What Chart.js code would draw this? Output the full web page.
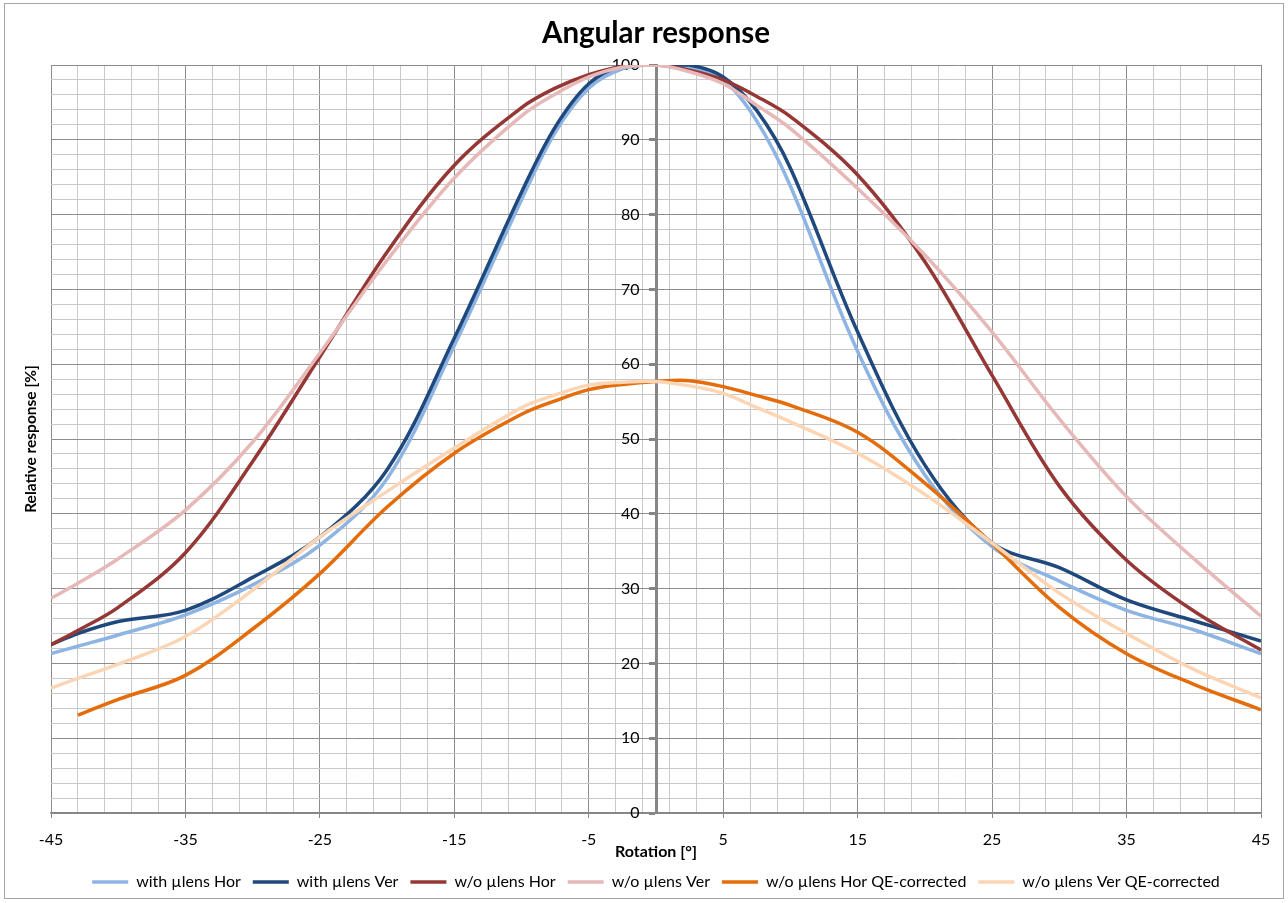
<!DOCTYPE html>
<html>
<head>
<meta charset="utf-8">
<script src="https://cdn.jsdelivr.net/npm/chart.js@4.4.0/dist/chart.umd.min.js"></script>
<style>
  body { margin: 0; background: #fff; }
  #wrap { position: absolute; left: 0; top: 0; width: 1288px; height: 903px; }
</style>
</head>
<body>
<div id="wrap"><canvas id="myChart" width="1288" height="903"></canvas></div>
<script>
// rotation angles in degrees
const angles = [-45, -43, -40, -35, -30, -25, -20, -15, -10, -7.5, -5, -2.5, 0, 2.5, 5, 7.5, 10, 15, 20, 25, 30, 35, 40, 45];

const withHor = [21.3, 22.3, 23.8, 26.5, 30.5, 35.8, 44.7, 62.5, 82.0, 91.0, 96.9, 99.5, 100, 99.7, 98.0, 92.5, 83.8, 61.7, 45.2, 35.6, 31.0, 27.1, 24.5, 21.3];
const withVer = [22.5, 24.0, 25.6, 27.1, 31.5, 36.9, 45.9, 63.5, 83.0, 91.7, 97.5, 99.9, 100, 100, 98.4, 93.9, 86.2, 64.3, 46.5, 36.1, 32.8, 28.5, 25.7, 23.0];
const woHor = [22.5, 24.4, 27.5, 34.8, 47.0, 61.0, 75.0, 86.6, 94.3, 96.9, 98.7, 99.8, 100, 99.3, 98.0, 95.8, 93.1, 85.3, 73.7, 58.5, 43.7, 33.8, 27.0, 21.8];
const woVer = [28.7, 30.7, 34.0, 40.5, 49.6, 61.5, 73.9, 84.9, 93.2, 96.1, 98.4, 99.7, 100, 99.1, 97.5, 94.6, 91.5, 83.5, 74.6, 64.3, 52.7, 42.3, 34.0, 26.3];
const woHorQE = [null, 13.1, 15.2, 18.4, 24.6, 32.0, 40.9, 48.1, 53.3, 55.1, 56.6, 57.3, 57.7, 57.8, 57.0, 55.8, 54.5, 50.9, 44.1, 36.0, 27.5, 21.3, 17.2, 13.8];
const woVerQE = [16.7, 18.0, 19.9, 23.6, 29.8, 36.9, 43.0, 48.8, 54.2, 55.9, 57.2, 57.6, 57.7, 57.1, 56.1, 54.2, 52.3, 48.1, 42.6, 36.1, 29.4, 24.0, 19.2, 15.4];

const seriesNames = ['with µlens Hor', 'with µlens Ver', 'w/o µlens Hor', 'w/o µlens Ver',
  'w/o µlens Hor QE-corrected', 'w/o µlens Ver QE-corrected'];
const seriesValues = [withHor, withVer, woHor, woVer, woHorQE, woVerQE];
const seriesColors = ['#8DB4E2', '#1F497D', '#953735', '#E6B9B8', '#E46C0A', '#FCD5B5'];

// x grid every 2 degrees starting at -45, labels every 10
const xTicks = [];
for (let v = -45; v <= 45; v += 2) xTicks.push(v);

Chart.defaults.font.family = 'Lato, "Open Sans", sans-serif';

const ctx = document.getElementById('myChart').getContext('2d');

const frame = {
  id: 'frame',
  beforeDraw(chart) {
    const c = chart.ctx;
    c.save();
    c.fillStyle = '#fff';
    c.fillRect(0, 0, chart.width, chart.height);
    c.strokeStyle = '#a6a6a6';
    c.lineWidth = 1;
    c.strokeRect(4.5, 3.5, 1279, 895);
    c.restore();
  }
};

const datasets = seriesValues.map((vals, i) => ({
  label: seriesNames[i],
  data: angles.map((a, j) => ({ x: a, y: vals[j] })).filter(p => p.y !== null),
  borderColor: seriesColors[i],
  backgroundColor: seriesColors[i],
  borderWidth: 3.5,
  pointRadius: 0,
  tension: 0.35,
  yAxisID: 'y',
  order: 5 - i // later series on top, like the original
}));

const isMajorY = c => c.tick && c.tick.value % 10 === 0;
const isMajorX = c => c.tick && (c.tick.value + 45) % 10 === 0;

const myChart = new Chart(ctx, {
  type: 'line',
  data: { datasets: datasets },
  plugins: [frame],
  options: {
    responsive: false,
    animation: false,
    devicePixelRatio: 1,
    events: [],
    layout: { padding: { top: 4, right: 27, bottom: 3, left: 0 } },
    plugins: {
      title: {
        display: true,
        fullSize: false,
        text: 'Angular response',
        color: '#000',
        font: { size: 29.5, weight: 'bold' },
        padding: { top: 11.3, bottom: 14.3 }
      },
      legend: {
        position: 'bottom',
        fullSize: false,
        labels: {
          color: '#000',
          font: { size: 16 },
          usePointStyle: true,
          pointStyle: 'line',
          pointStyleWidth: 36,
          boxHeight: 15,
          padding: 12,
          sort: (a, b) => a.datasetIndex - b.datasetIndex
        }
      },
      tooltip: { enabled: false }
    },
    scales: {
      x: {
        type: 'linear',
        min: -45,
        max: 45,
        afterBuildTicks: s => { s.ticks = xTicks.map(v => ({ value: v })); },
        ticks: {
          autoSkip: false,
          maxRotation: 0,
          padding: 14,
          color: '#000',
          font: { size: 16, lineHeight: 1 },
          callback: v => ((v + 45) % 10 === 0 ? v : '')
        },
        grid: {
          color: c => (isMajorX(c) ? '#8c8c8c' : '#c8c8c8'),
          lineWidth: 1,
          tickLength: 5,
          tickColor: c => (isMajorX(c) ? '#868686' : 'rgba(0,0,0,0)')
        },
        border: { color: '#868686', width: 1.5 },
        title: {
          display: true,
          text: 'Rotation [°]',
          color: '#000',
          font: { size: 16, weight: 'bold', lineHeight: 1 },
          padding: { top: -18, bottom: 2 }
        }
      },
      y: {
        type: 'linear',
        position: { x: 0 },
        min: 0,
        max: 100,
        ticks: {
          stepSize: 2,
          autoSkip: false,
          color: '#000',
          font: { size: 16 },
          // centred axis ignores tick padding, so trailing spaces keep labels off the axis line
          callback: v => (v % 10 === 0 ? v + '    ' : '')
        },
        grid: {
          color: c => (isMajorY(c) ? '#8c8c8c' : '#c8c8c8'),
          lineWidth: 1,
          tickLength: 6,
          tickWidth: 3,
          tickColor: c => (isMajorY(c) ? '#868686' : 'rgba(0,0,0,0)')
        },
        border: { color: '#868686', width: 3 }
      },
      yTitle: {
        type: 'linear',
        position: 'left',
        grid: { display: false, drawTicks: false },
        ticks: { display: false },
        border: { display: false },
        title: {
          display: true,
          text: 'Relative response [%]',
          color: '#000',
          font: { size: 15.5, weight: 'bold' },
          padding: { top: 21.7, bottom: 10.7 }
        }
      }
    }
  }
});
</script>
</body>
</html>
